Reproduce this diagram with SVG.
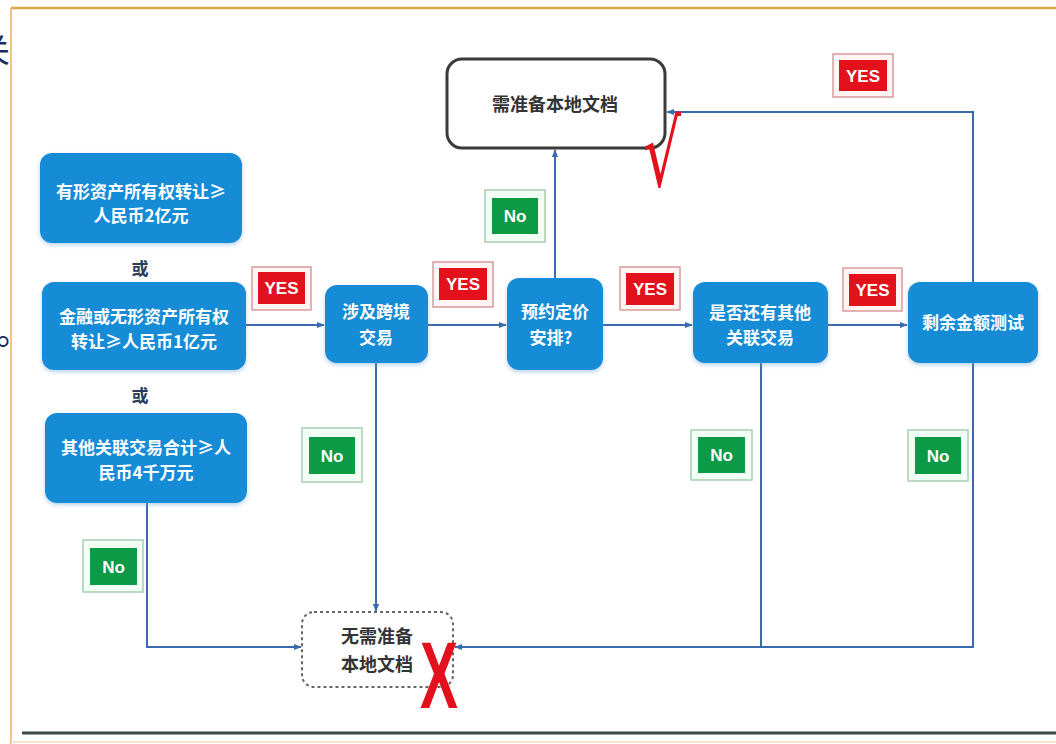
<svg xmlns="http://www.w3.org/2000/svg" width="1056" height="744" viewBox="0 0 1056 744">
  <defs>
    <marker id="arr" viewBox="0 0 10 10" refX="9" refY="5" markerWidth="8" markerHeight="8" markerUnits="userSpaceOnUse" orient="auto">
      <path d="M0,1 L10,5 L0,9 z" fill="#3a6aad"/>
    </marker>
    <filter id="sh" x="-10%" y="-10%" width="120%" height="130%">
      <feDropShadow dx="0" dy="2" stdDeviation="2" flood-color="#6aa6d8" flood-opacity="0.5"/>
    </filter>
  </defs>
  <style>
    .bx{fill:#168bd6;filter:url(#sh)}
    .bt{font-family:"Noto Sans CJK SC","Noto Sans",sans-serif;font-weight:bold;font-size:17px;fill:#ffffff;text-anchor:middle}
    .dt{font-family:"Noto Sans CJK SC","Noto Sans",sans-serif;font-weight:bold;font-size:18px;fill:#333333;text-anchor:middle}
    .or{font-family:"Noto Sans CJK SC","Noto Sans",sans-serif;font-weight:bold;font-size:17px;fill:#2a3a5a;text-anchor:middle}
    .con{fill:none;stroke:#3a6aad;stroke-width:2}
    .yo{fill:#fff4f4;stroke:#d99a9a;stroke-width:1.5}
    .yi{fill:#e3111b}
    .no{fill:#f2fff5;stroke:#a9cdb3;stroke-width:1.5}
    .ni{fill:#0c9a47}
    .lt{font-family:"Liberation Sans",Arial,sans-serif;font-weight:bold;font-size:17px;fill:#ffffff;text-anchor:middle}
  </style>

  <!-- clipped page text at the left edge -->
  <text x="-22" y="62" font-family="Noto Sans CJK SC, sans-serif" font-size="32" fill="#1b2a5e">关</text>
  <text x="-4" y="345" font-family="Noto Sans CJK SC, sans-serif" font-size="36" fill="#1b2a5e">。</text>

  <!-- frame -->
  <rect x="11" y="8" width="1050" height="740" fill="#ffffff"/>
  <line x1="11" y1="8" x2="1056" y2="8" stroke="#d9a84a" stroke-width="2.5"/>
  <line x1="11" y1="8" x2="11" y2="744" stroke="#f1c28a" stroke-width="2"/>
  <line x1="22" y1="733" x2="1056" y2="733" stroke="#3b4a42" stroke-width="3"/>
  <line x1="11" y1="742" x2="1056" y2="742" stroke="#f6e3c8" stroke-width="2"/>

  <!-- connectors -->
  <g id="connectors">
    <line class="con" x1="245" y1="325" x2="324" y2="325" marker-end="url(#arr)"/>
    <line class="con" x1="428" y1="325" x2="506" y2="325" marker-end="url(#arr)"/>
    <line class="con" x1="603" y1="325" x2="692" y2="325" marker-end="url(#arr)"/>
    <line class="con" x1="828" y1="325" x2="907" y2="325" marker-end="url(#arr)"/>
    <line class="con" x1="555" y1="278" x2="555" y2="150" marker-end="url(#arr)"/>
    <polyline class="con" points="973,282 973,112 667,112" marker-end="url(#arr)"/>
    <polyline class="con" points="147,503 147,647 301,647" marker-end="url(#arr)"/>
    <line class="con" x1="376" y1="363" x2="376" y2="611" marker-end="url(#arr)"/>
    <polyline class="con" points="973,363 973,647 455,647" marker-end="url(#arr)"/>
    <line class="con" x1="761" y1="363" x2="761" y2="647"/>
  </g>

  <!-- left condition boxes -->
  <g id="n1">
    <rect class="bx" x="40" y="153" width="202" height="90" rx="12"/>
    <text class="bt" x="141" y="198">有形资产所有权转让≥</text>
    <text class="bt" x="141" y="222">人民币2亿元</text>
  </g>
  <g id="or1"><text class="or" x="140" y="275">或</text></g>
  <g id="n2">
    <rect class="bx" x="42" y="282" width="204" height="88" rx="12"/>
    <text class="bt" x="144" y="323">金融或无形资产所有权</text>
    <text class="bt" x="144" y="348">转让≥人民币1亿元</text>
  </g>
  <g id="or2"><text class="or" x="140" y="402">或</text></g>
  <g id="n3">
    <rect class="bx" x="45" y="413" width="202" height="90" rx="12"/>
    <text class="bt" x="146" y="454">其他关联交易合计≥人</text>
    <text class="bt" x="146" y="479">民币4千万元</text>
  </g>

  <!-- decision boxes -->
  <g id="n4">
    <rect class="bx" x="325" y="285" width="103" height="78" rx="12"/>
    <text class="bt" x="376" y="318">涉及跨境</text>
    <text class="bt" x="376" y="344">交易</text>
  </g>
  <g id="n5">
    <rect class="bx" x="507" y="278" width="96" height="92" rx="12"/>
    <text class="bt" x="555" y="318">预约定价</text>
    <text class="bt" x="555" y="344">安排？</text>
  </g>
  <g id="n6">
    <rect class="bx" x="693" y="282" width="135" height="81" rx="12"/>
    <text class="bt" x="760" y="319">是否还有其他</text>
    <text class="bt" x="760" y="344">关联交易</text>
  </g>
  <g id="n7">
    <rect class="bx" x="908" y="282" width="130" height="81" rx="12"/>
    <text class="bt" x="973" y="329">剩余金额测试</text>
  </g>

  <!-- outcomes -->
  <g id="n8">
    <rect x="447" y="59" width="218" height="89" rx="15" fill="#ffffff" stroke="#3a3a3a" stroke-width="3"/>
    <text class="dt" x="555" y="111">需准备本地文档</text>
    <text x="643" y="186" font-family="DejaVu Sans, sans-serif" font-size="92" fill="#e3111b" textLength="38" lengthAdjust="spacingAndGlyphs">√</text>
  </g>
  <g id="n9">
    <rect x="302" y="612" width="151" height="75" rx="12" fill="#ffffff" stroke="#666666" stroke-width="2" stroke-dasharray="3,3"/>
    <text class="dt" x="377" y="643">无需准备</text>
    <text class="dt" x="377" y="671">本地文档</text>
    <text x="420" y="708" font-family="Liberation Sans, Arial, sans-serif" font-weight="bold" font-size="95" fill="#e3111b" textLength="38" lengthAdjust="spacingAndGlyphs">X</text>
  </g>

  <!-- YES labels -->
  <g id="y1"><rect class="yo" x="252" y="267" width="59" height="43"/><rect class="yi" x="258" y="272" width="47" height="32"/><text class="lt" x="281.5" y="294">YES</text></g>
  <g id="y2"><rect class="yo" x="433" y="262" width="60" height="45"/><rect class="yi" x="439" y="268" width="48" height="32"/><text class="lt" x="463" y="290">YES</text></g>
  <g id="y3"><rect class="yo" x="620" y="267" width="60" height="43"/><rect class="yi" x="626" y="273" width="48" height="32"/><text class="lt" x="650" y="295">YES</text></g>
  <g id="y4"><rect class="yo" x="843" y="268" width="59" height="43"/><rect class="yi" x="849" y="274" width="47" height="32"/><text class="lt" x="872.5" y="296">YES</text></g>
  <g id="y5"><rect class="yo" x="833" y="54" width="60" height="43"/><rect class="yi" x="839" y="60" width="48" height="31"/><text class="lt" x="863" y="82">YES</text></g>

  <!-- No labels -->
  <g id="no1"><rect class="no" x="485" y="190" width="60" height="52"/><rect class="ni" x="492" y="198" width="46" height="36"/><text class="lt" x="515" y="222">No</text></g>
  <g id="no2"><rect class="no" x="302" y="428" width="60" height="54"/><rect class="ni" x="309" y="437" width="46" height="37"/><text class="lt" x="332" y="462">No</text></g>
  <g id="no3"><rect class="no" x="691" y="430" width="61" height="50"/><rect class="ni" x="698" y="437" width="47" height="36"/><text class="lt" x="721.5" y="461">No</text></g>
  <g id="no4"><rect class="no" x="908" y="430" width="60" height="51"/><rect class="ni" x="915" y="437" width="46" height="37"/><text class="lt" x="938" y="462">No</text></g>
  <g id="no5"><rect class="no" x="83" y="540" width="60" height="52"/><rect class="ni" x="90" y="548" width="47" height="37"/><text class="lt" x="113.5" y="573">No</text></g>
</svg>
